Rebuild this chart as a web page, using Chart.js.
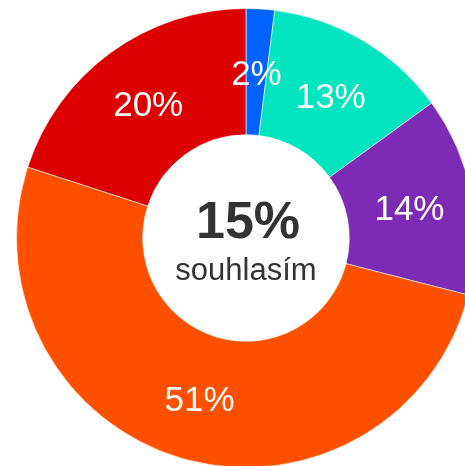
<!DOCTYPE html>
<html>
<head>
<meta charset="utf-8">
<script src="https://cdn.jsdelivr.net/npm/chart.js@4"></script>
<style>
    html, body { margin: 0; padding: 0; background: #fff; overflow: hidden; width: 465px; height: 466px; }
    #wrap { position: absolute; left: 0; top: 0; width: 492px; height: 476px; }
</style>
</head>
<body>
<div id="wrap"><canvas id="pollChart" width="492" height="476"></canvas></div>
<script>
// Answer shares in percent, clockwise from the top
const answers = ['souhlasím zcela', 'spíše souhlasím', 'spíše nesouhlasím', 'nesouhlasím', 'nevím'];
const shares = [2, 13, 14, 51, 20];
const colors = ['#0062ff', '#00e5bf', '#7d2bb5', '#ff5000', '#dd0000'];

// Agreement total shown in the hole = first two answers
const agreeTotal = shares[0] + shares[1];
const centerCaption = 'souhlasím';

// Percent text on each slice, digits centred on the ring midpoint
const sliceLabels = {
    id: 'sliceLabels',
    afterDatasetsDraw(chart) {
        const ctx = chart.ctx;
        const meta = chart.getDatasetMeta(0);
        ctx.save();
        ctx.fillStyle = '#ffffff';
        ctx.font = '35px "Liberation Sans", Arial, sans-serif';
        ctx.textAlign = 'center';
        ctx.textBaseline = 'alphabetic';
        meta.data.forEach((arc, i) => {
            const pos = arc.tooltipPosition();
            ctx.fillText(shares[i] + '%', pos.x, pos.y + 13);
        });
        ctx.restore();
    }
};

// Big number and caption in the middle
const centerText = {
    id: 'centerText',
    afterDraw(chart) {
        const ctx = chart.ctx;
        const arc = chart.getDatasetMeta(0).data[0];
        ctx.save();
        ctx.fillStyle = '#333333';
        ctx.textAlign = 'center';
        ctx.textBaseline = 'alphabetic';
        ctx.font = 'bold 52px "Liberation Sans", Arial, sans-serif';
        ctx.fillText(agreeTotal + '%', arc.x + 2, arc.y);
        ctx.font = '31px "Liberation Sans", Arial, sans-serif';
        ctx.fillText(centerCaption, arc.x, arc.y + 42);
        ctx.restore();
    }
};

const ctx = document.getElementById('pollChart').getContext('2d');
new Chart(ctx, {
    type: 'doughnut',
    data: {
        labels: answers,
        datasets: [{
            data: shares,
            backgroundColor: colors,
            borderColor: 'rgba(255,255,255,0.6)',
            borderWidth: 1
        }]
    },
    options: {
        responsive: false,
        animation: false,
        cutout: '45%',
        layout: { padding: 8 },
        plugins: {
            legend: { display: false },
            tooltip: { enabled: false }
        }
    },
    plugins: [sliceLabels, centerText]
});
</script>
</body>
</html>
